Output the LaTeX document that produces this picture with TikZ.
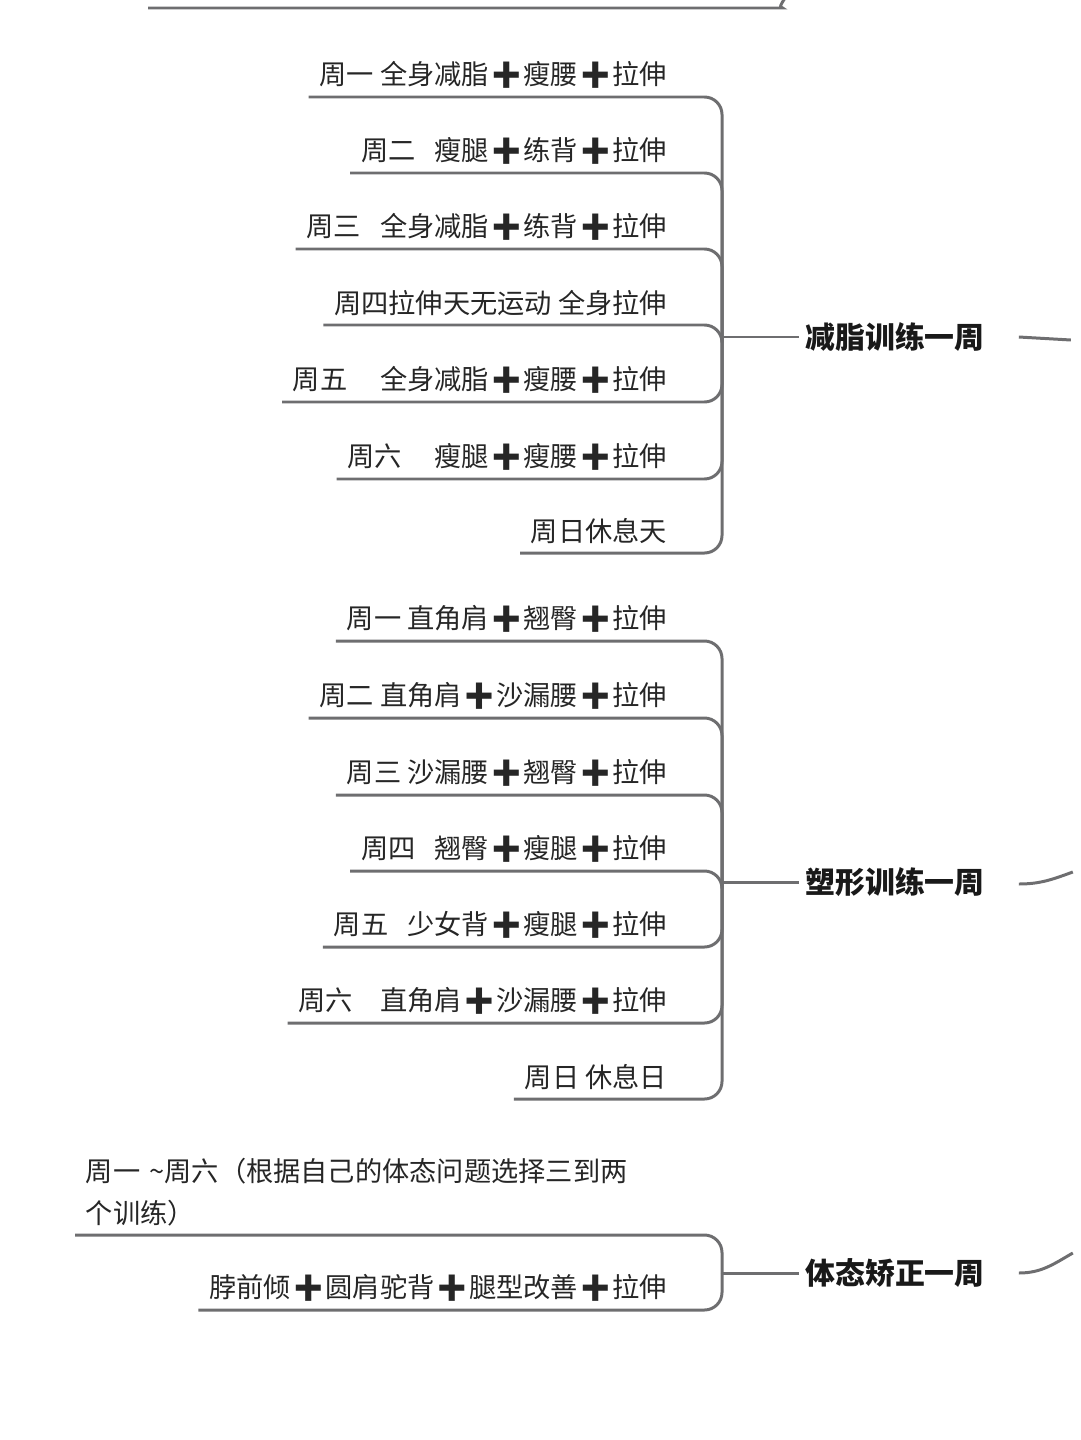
\documentclass[tikz,border=0pt]{standalone}
\usepackage{fontspec}
\setmainfont{Noto Sans CJK SC}
\newfontfamily\emo{Noto Emoji}
\usetikzlibrary{positioning}
\newcommand{\pl}{{\emo ➕}}
\definecolor{linegray}{HTML}{6E6E70}
\tikzset{leaf/.style={anchor=south east,inner xsep=6pt,inner ysep=5pt,font=\fontsize{15.5}{20}\selectfont,text=black!85},
  hub/.style={font=\fontsize{17}{20}\selectfont\bfseries,text=black!90},
  br/.style={draw=linegray,line width=1.7pt,rounded corners=10pt}}
\begin{document}
\begin{tikzpicture}[x=0.02cm,y=-0.02cm]
        \useasboundingbox (0,0) rectangle (1080,1440);
        % top stub
        \draw [br] (148,8) -- (765,8) to[out=0,in=240] (790,-10);

        % week one
        \node[hub] (w1) at (895,337) {减脂训练一周};
        \coordinate (h1) at (722,337);
        \node[leaf] (a1) at (678,97) {周一 全身减脂\pl 瘦腰\pl 拉伸};
        \node[leaf] (a2) at (678,173) {周二\hspace{0.7em}瘦腿\pl 练背\pl 拉伸};
        \node[leaf] (a3) at (678,249) {周三\hspace{0.7em}全身减脂\pl 练背\pl 拉伸};
        \node[leaf] (a4) at (678,325) {周四拉伸天无运动 全身拉伸};
        \node[leaf] (a5) at (678,402) {周五\hspace{1.2em}全身减脂\pl 瘦腰\pl 拉伸};
        \node[leaf] (a6) at (678,479) {周六\hspace{1.2em}瘦腿\pl 瘦腰\pl 拉伸};
        \node[leaf] (a7) at (678,553) {周日休息天};

        % week two
        \node[hub] (w2) at (895,882) {塑形训练一周};
        \coordinate (h2) at (722,882);
        \node[leaf] (b1) at (678,641) {周一 直角肩\pl 翘臀\pl 拉伸};
        \node[leaf] (b2) at (678,718) {周二 直角肩\pl 沙漏腰\pl 拉伸};
        \node[leaf] (b3) at (678,795) {周三 沙漏腰\pl 翘臀\pl 拉伸};
        \node[leaf] (b4) at (678,871) {周四\hspace{0.7em}翘臀\pl 瘦腿\pl 拉伸};
        \node[leaf] (b5) at (678,947) {周五\hspace{0.7em}少女背\pl 瘦腿\pl 拉伸};
        \node[leaf] (b6) at (678,1023) {周六\hspace{1em}直角肩\pl 沙漏腰\pl 拉伸};
        \node[leaf] (b7) at (678,1099) {周日 休息日};

        % week three
        \node[hub] (w3) at (895,1273) {体态矫正一周};
        \coordinate (h3) at (722,1273);
        \node[leaf,anchor=south west,align=left,text width=11.8cm] (c1) at (75,1235)
          {周一 \textasciitilde 周六（根据自己的体态问题选择三到两\\[4pt]个训练）};
        \node[leaf] (c2) at (678,1310) {脖前倾\pl 圆肩驼背\pl 腿型改善\pl 拉伸};

        \foreach \n in {a1,a2,a3,a4,a5,a6,a7}
          \draw [br] (\n.south west) -| (h1);
        \foreach \n in {b1,b2,b3,b4,b5,b6,b7}
          \draw [br] (\n.south west) -| (h2);
        \foreach \n in {c1,c2}
          \draw [br] (\n.south west) -| (h3);
        \draw [br] (h1) -- (w1.west);
        \draw [br] (h2) -- (w2.west);
        \draw [br] (h3) -- (w3.west);

        % stubs to the right
        \draw [br] (w1.east) ++(28,0) -- ++(52,3);
        \draw [br] (w2.east) ++(28,2) to[out=0,in=200] ++(54,-12);
        \draw [br] (w3.east) ++(28,0) to[out=0,in=210] ++(54,-20);
    \end{tikzpicture}
\end{document}
